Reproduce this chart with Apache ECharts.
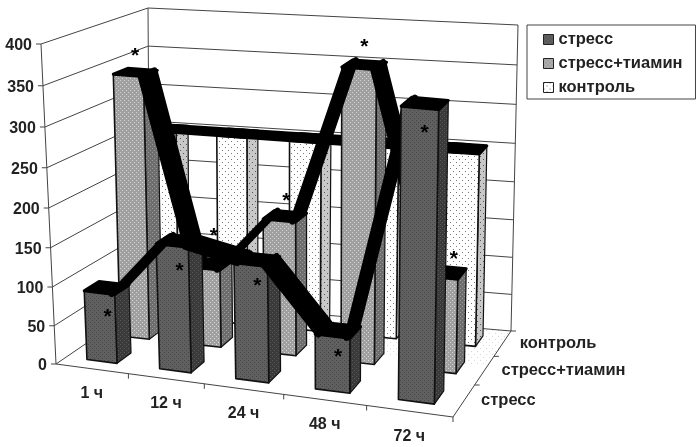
<!DOCTYPE html>
<html><head><meta charset="utf-8">
<style>html,body{margin:0;padding:0;background:#fff}#c{width:700px;height:447px;filter:blur(.35px)}</style>
<script src="https://cdn.jsdelivr.net/npm/echarts@6/dist/echarts.min.js"></script>
</head><body><div id="c"></div>
<script>
const categories=['1 ч','12 ч','24 ч','48 ч','72 ч'];
const rows=['стресс','стресс+тиамин','контроль'];
const yTicks=[0,50,100,150,200,250,300,350,400];
const stress=[90,161,148,70,358];
const thiamin=[343,103,175,373,122];
const control=[252,252,252,252,252];
const stressStars=[57,128,119,41,328];
const thiaminStars=[368,146,200,399,145];

const G={left:50,top:40,w:400,h:320};
const FLB=[56,364],FRB=[453,417],BLB=[150,300],BRB=[511,331];
const FLT=[41,44],FRT=[459,82],BLT=[148,8],BRT=[518,25];
const lerp=(a,b,t)=>[a[0]+(b[0]-a[0])*t,a[1]+(b[1]-a[1])*t];
const warpU=u=>u*(.89+.11*u), warpD=d=>d*(1.174-.174*d), warpV=v=>v*(.95+.05*v);
function P(api,i,off,val,d){
  const p=api.coord([i,val]);
  const u=warpU((p[0]-G.left)/G.w+off/5), v=warpV((G.top+G.h-p[1])/G.h), dd=warpD(d);
  const b=lerp(lerp(FLB,FRB,u),lerp(BLB,BRB,u),dd), t=lerp(lerp(FLT,FRT,u),lerp(BLT,BRT,u),dd);
  return lerp(b,t,v);
}
function pat(bg,dot,step,size){
  const c=document.createElement('canvas');c.width=c.height=step*2;
  const x=c.getContext('2d');x.fillStyle=bg;x.fillRect(0,0,step*2,step*2);x.fillStyle=dot;
  x.fillRect(0,0,size,size);x.fillRect(step,step,size,size);
  return {image:c,repeat:'repeat'};
}
const styles=[
 {front:pat('#606060','#444444',2,1),side:pat('#3a3a3a','#5a5a5a',2,1)},
 {front:pat('#a0a0a0','#d4d4d4',2,1),side:pat('#6e6e6e','#9a9a9a',2,1)},
 {front:pat('#ffffff','#777777',3,1),side:pat('#c8c8c8','#555555',3,1)}
];
const floorFill=pat('#ffffff','#d8d8d8',3,1);
const INK='#111';
const H=.21;
function barSeries(name,row,vals,z){
  const RIB=row===2?0:.17;
  return {name,type:'custom',coordinateSystem:'cartesian2d',z,clip:false,silent:true,
    itemStyle:{color:styles[row].front},
    data:vals.map((v,i)=>[i,v]),
    encode:{x:0,y:1},
    renderItem(params,api){
      const i=api.value(0),v=api.value(1),d=o=>(row+.5+o)/3;
      const z2=i===4?3:1;
      const q=(off,dd,val)=>P(api,i,off,val,d(dd));
      const kids=[];
      const poly=(pts,fill,stroke,lw,zz)=>({type:'polygon',z2:zz,shape:{points:pts},style:{fill,stroke,lineWidth:lw,lineJoin:'round'}});
      kids.push(poly([q(H,-H,0),q(H,H,0),q(H,H,v),q(H,-H,v)],styles[row].side,INK,1.2,z2));
      kids.push(poly([q(-H,-H,0),q(H,-H,0),q(H,-H,v),q(-H,-H,v)],styles[row].front,INK,1.6,z2));
      kids.push(poly([q(-H,-H,v),q(H,-H,v),q(H,H,v),q(-H,H,v)],'#000','#000',3,z2));
      if(i<4){
        const nv=vals[i+1];
        const pts=[P(api,i,RIB,v,d(-H)),P(api,i,RIB,v,d(H)),P(api,i+1,-RIB,nv,d(H)),P(api,i+1,-RIB,nv,d(-H))];
        kids.push(poly(pts,'#000','#000',row===2?3:6,row===2?4:2));
      }
      return {type:'group',children:kids};
    }};
}
const txt=(x,y,t,align,size,color)=>({type:'text',x,y,style:{text:t,fill:color||'#222',font:'bold '+(size||15)+'px "Liberation Sans"',textAlign:align,textVerticalAlign:'middle'}});
const line=(a,b,w,c)=>({type:'line',shape:{x1:a[0],y1:a[1],x2:b[0],y2:b[1]},style:{stroke:c||'#444',lineWidth:w||1}});
const wall={type:'custom',z:1,silent:true,clip:false,coordinateSystem:'cartesian2d',data:yTicks.map(t=>[0,t]),encode:{x:0,y:1},
  renderItem(params,api){
    const t=api.value(1);
    const fl=P(api,0,-.5,t,0),bl=P(api,0,-.5,t,1),br=P(api,4,.5,t,1);
    const kids=[];
    if(t===0){
      kids.push({type:'polygon',z2:0,shape:{points:[P(api,0,-.5,0,.55),P(api,4,.5,0,.55),br,bl]},style:{fill:floorFill}});
    }
    kids.push(line(fl,bl),line(bl,br),line([fl[0]-5,fl[1]],fl),txt(fl[0]-9,fl[1]+2,String(t),'right',16));
    if(t===0){
      const fr=P(api,4,.5,0,0);
      kids.push(line(fl,fr),line(fr,br));
      kids.push(line(fl,P(api,0,-.5,400,0)),line(bl,P(api,0,-.5,400,1)),line(br,P(api,4,.5,400,1)));
    }
    return {type:'group',children:kids};
  }};
const catAxis={type:'custom',z:1,silent:true,clip:false,coordinateSystem:'cartesian2d',data:categories.map((c,i)=>[i,0]),encode:{x:0,y:1},
  renderItem(params,api){
    const i=api.value(0);
    const e=P(api,i,.5,0,0),m=P(api,i,0,0,0);
    return {type:'group',children:[line(e,[e[0],e[1]+5]),txt(m[0],m[1]+25,categories[i],'center',16)]};
  }};
const rowAxis={type:'custom',z:1,silent:true,clip:false,coordinateSystem:'cartesian2d',data:rows.map((r,i)=>[4,0,i]),encode:{x:0,y:1},
  renderItem(params,api){
    const r=api.value(2);
    const m=P(api,4,.5,0,(r+.5)/3),e=P(api,4,.5,0,(r+1)/3);
    return {type:'group',children:[line(e,[e[0]+5,e[1]]),txt(m[0]+17,m[1],rows[r],'left',16.5)]};
  }};
function starSeries(row,vals,shift){
  return {type:'custom',z:6,silent:true,clip:false,coordinateSystem:'cartesian2d',data:vals.map((v,i)=>[i,v]),encode:{x:0,y:1},
    renderItem(params,api){
      const i=api.value(0);
      const p=P(api,i,shift[i],api.value(1),(row+.5)/3);
      return txt(p[0],p[1]+4,'*','center',21,'#000');
    }};
}
const chart=echarts.init(document.getElementById('c'),null,{renderer:'canvas'});
chart.setOption({
  animation:false,backgroundColor:'#fff',
  grid:{left:G.left,top:G.top,width:G.w,height:G.h},
  xAxis:{type:'category',data:categories,show:false},
  yAxis:{type:'value',min:0,max:400,interval:50,show:false},
  legend:{left:527,top:25,orient:'vertical',padding:[6,13,3,16],itemGap:7,itemWidth:10,itemHeight:10,
    borderColor:'#444',borderWidth:1,
    textStyle:{fontFamily:'Liberation Sans',fontWeight:'bold',fontSize:16.5,color:'#222'},
    data:rows.map((n,r)=>({name:n,icon:'rect',itemStyle:{color:styles[r].front,borderColor:'#222',borderWidth:1}}))},
  series:[wall,catAxis,rowAxis,
    barSeries('контроль',2,control,3),barSeries('стресс+тиамин',1,thiamin,4),barSeries('стресс',0,stress,5),
    starSeries(0,stressStars,[0,0,0,0,0]),starSeries(1,thiaminStars,[0,.05,.02,0,.11])]
});
</script></body></html>
